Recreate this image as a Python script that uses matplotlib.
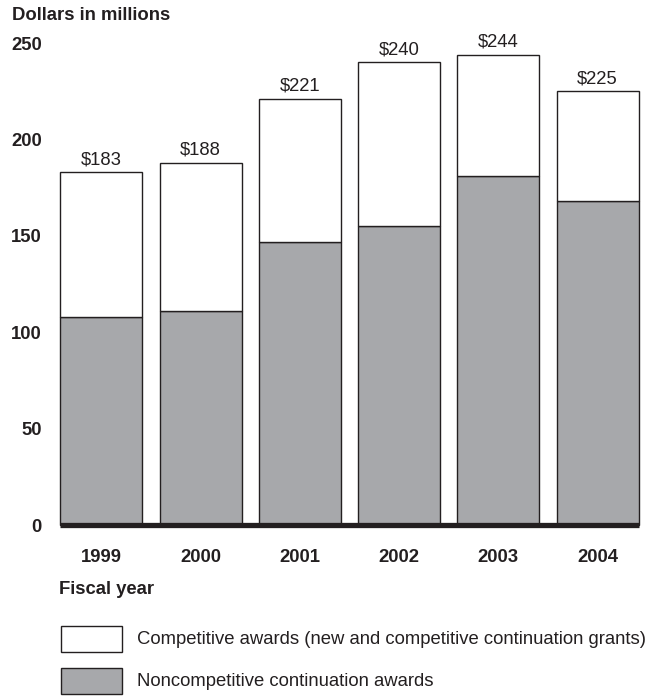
import matplotlib.pyplot as plt
from matplotlib.patches import Rectangle
import numpy as np

plt.rcParams['font.family'] = ['Liberation Sans', 'DejaVu Sans']

# Données (millions de dollars)
years = ['1999', '2000', '2001', '2002', '2003', '2004']
totals = [183, 188, 221, 240, 244, 225]
noncompetitive = [108, 111, 147, 155, 181, 168]
competitive = [t - n for t, n in zip(totals, noncompetitive)]
total_labels = [f"${t}" for t in totals]

gray = '#a7a8ab'
edge = '#231f20'
fs = 13.3

fig = plt.figure(figsize=(6.5, 6.98), dpi=100)
ax = fig.add_axes([60 / 650, 173 / 698, 579 / 650, 482 / 698])

x = np.arange(len(years))
width = 0.826
ax.bar(x, noncompetitive, width, color=gray, edgecolor=edge, linewidth=1.0,
       clip_on=False)
top = ax.bar(x, competitive, width, bottom=noncompetitive, color='white',
             edgecolor=edge, linewidth=1.0, clip_on=False)
ax.bar_label(top, labels=total_labels, padding=3, fontsize=fs, color=edge)

ax.set_xlim(-width / 2 - 0.005, len(years) - 1 + width / 2 + 0.005)
ax.set_ylim(0, 250)
ax.set_yticks([0, 50, 100, 150, 200, 250])
ax.set_xticks(x)
ax.set_xticklabels(years)
ax.tick_params(length=0, labelsize=fs, colors=edge)
ax.tick_params(axis='y', pad=13)
ax.tick_params(axis='x', pad=17)
for lab in ax.get_xticklabels() + ax.get_yticklabels():
    lab.set_fontweight('bold')

for s in ['top', 'right', 'left']:
    ax.spines[s].set_visible(False)
ax.spines['bottom'].set_linewidth(3.8)
ax.spines['bottom'].set_color(edge)
ax.spines['bottom'].set_capstyle('butt')
ax.spines['bottom'].set_zorder(5)

fig.text(12 / 650, 1 - 15 / 698, "Dollars in millions", fontsize=fs,
         fontweight='bold', va='center', ha='left', color=edge)
fig.text(59 / 650, 1 - 589 / 698, "Fiscal year", fontsize=fs,
         fontweight='bold', va='center', ha='left', color=edge)

# Légende
items = [('white', "Competitive awards (new and competitive continuation grants)", 639),
         (gray, "Noncompetitive continuation awards", 681)]
for col, txt, yc in items:
    fig.patches.append(Rectangle((61 / 650, 1 - (yc + 13) / 698), 61 / 650, 26 / 698,
                                 transform=fig.transFigure, facecolor=col,
                                 edgecolor=edge, linewidth=1.0))
    fig.text(137 / 650, 1 - yc / 698, txt, fontsize=fs, va='center', ha='left',
             color=edge)

plt.savefig('out.png', dpi=100)
